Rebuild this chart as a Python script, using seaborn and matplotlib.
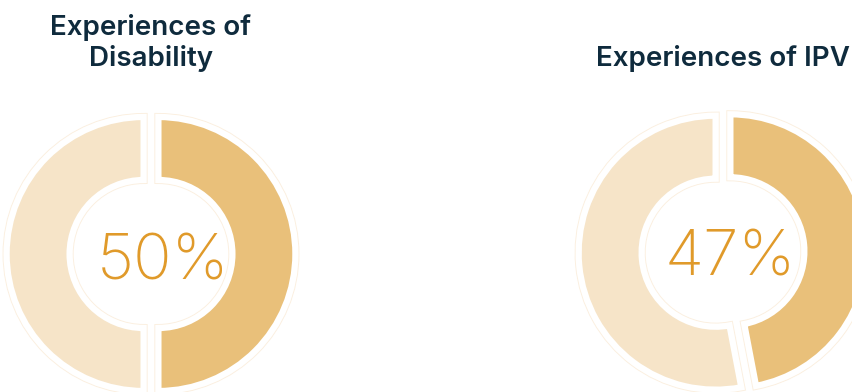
import numpy as np
import seaborn as sns
import matplotlib.pyplot as plt

# chart data
titles = ['Experiences of\nDisability', 'Experiences of IPV']
values = [50, 47]
labels = ['50%', '47%']

dark = '#e9c07a'
light = '#f6e4c8'
outline = '#fbefdf'
navy = '#0f2b3d'
orange = '#e09a2a'

sns.set_theme(style='white')
plt.rcParams['font.family'] = ['Roboto', 'DejaVu Sans']

fig = plt.figure(figsize=(8.53, 3.92), dpi=100)
ax = fig.add_axes([0, 0, 1, 1])

# donut placement in pixel units (y up)
centers = [(151, 138), (723, 140)]
text_pos = [(163, 112), (730, 117)]
title_pos = [(151, 326), (723, 326)]

R = 137
W = 63
shift = 7.4  # explode is in data units
for i, v in enumerate(values):
    cx, cy = centers[i]
    data = [v, 100 - v]
    cols = [dark, light]
    # faint outline layer
    ax.pie(data, colors=cols, startangle=90, counterclock=False,
           center=(cx, cy), radius=R, explode=[shift, shift], frame=True,
           wedgeprops=dict(width=W, edgecolor=outline, linewidth=5.8))
    # main wedges with white gap
    ax.pie(data, colors=cols, startangle=90, counterclock=False,
           center=(cx, cy), radius=R, explode=[shift, shift], frame=True,
           wedgeprops=dict(width=W, edgecolor='white', linewidth=4.5))
    tx, ty = text_pos[i]
    ax.text(tx, ty, labels[i], ha='center', va='baseline', fontsize=46,
            fontweight='light', color=orange, family=['Inter', 'DejaVu Sans'])
    px, py = title_pos[i]
    ax.text(px, py, titles[i], ha='center', va='baseline', fontsize=20,
            fontweight='semibold', color=navy, family=['Inter', 'DejaVu Sans'],
            linespacing=1.2)

ax.set_xlim(0, 853)
ax.set_ylim(0, 392)
ax.set_aspect('equal')
ax.axis('off')

fig.savefig('out.png', dpi=100, facecolor='white')
